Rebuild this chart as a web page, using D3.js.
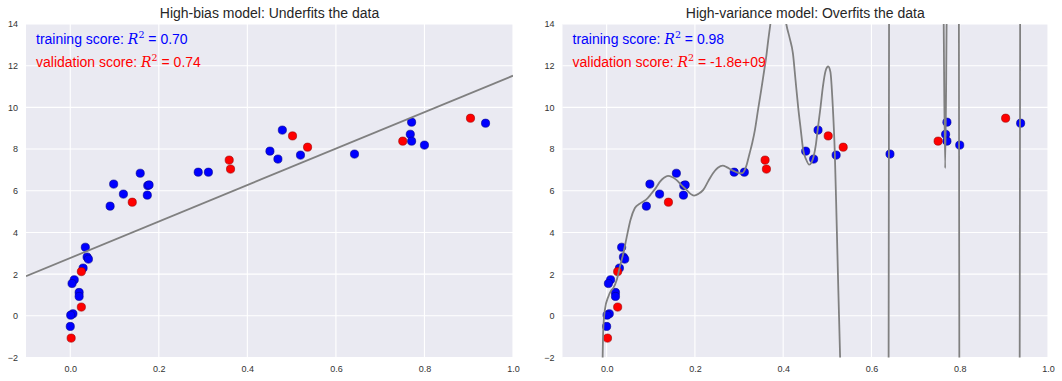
<!DOCTYPE html>
<html>
<head>
<meta charset="utf-8">
<script src="https://cdn.jsdelivr.net/npm/d3@7"></script>
<style>
  html, body { margin: 0; padding: 0; background: #ffffff; }
  svg { display: block; font-family: "Liberation Sans", Arial, sans-serif; }
</style>
</head>
<body>
<svg id="chart" width="1062" height="381"></svg>
<script>
// ---- Data ----
const trainX = [0.098, 0.120, 0.090, 0.158, 0.175, 0.178, 0.174, 0.289, 0.312, 0.451, 0.469,
                0.479, 0.520, 0.642, 0.771, 0.768, 0.771, 0.800, 0.938,
                0.034, 0.038, 0.041, 0.029, 0.009, 0.004, 0.020, 0.020, 0.006, 0.001, 0.000];
const trainY = [6.32, 5.84, 5.26, 6.84, 6.25, 6.28, 5.79, 6.89, 6.89, 7.90, 7.52,
                8.91, 7.71, 7.76, 9.29, 8.71, 8.38, 8.19, 9.24,
                3.29, 2.82, 2.72, 2.29, 1.73, 1.55, 1.12, 0.93, 0.10, 0.03, -0.51];
const validX = [0.140, 0.359, 0.362, 0.025, 0.025, 0.002, 0.502, 0.536, 0.751, 0.904];
const validY = [5.45, 7.47, 7.04, 2.12, 0.42, -1.07, 8.63, 8.09, 8.38, 9.48];

// High-bias (straight line) model, endpoints
const lineX = [-0.1, 1.0];
const lineY = [1.90, 11.52];

// High-variance model curve (values outside the view are clipped)
const curveX = [-0.012, -0.009, -0.008, -0.004, 0.004, 0.010, 0.015, 0.023, 0.030, 0.038, 0.045,
  0.054, 0.064, 0.075, 0.083, 0.093, 0.102, 0.112, 0.121, 0.130, 0.139, 0.148, 0.158, 0.170,
  0.181, 0.190, 0.198, 0.208, 0.219, 0.230, 0.241, 0.252, 0.263, 0.273, 0.283, 0.293, 0.302,
  0.308, 0.313, 0.318, 0.324, 0.330, 0.336, 0.343, 0.350, 0.355, 0.362, 0.366, 0.371, 0.380,
  0.390, 0.400, 0.407, 0.415, 0.422, 0.428, 0.434, 0.440, 0.445, 0.452, 0.459, 0.464, 0.469,
  0.474, 0.479, 0.484, 0.490, 0.496, 0.502, 0.507, 0.512, 0.517, 0.521, 0.525, 0.529, 0.535,
  0.560, 0.600, 0.636, 0.639, 0.642, 0.700, 0.755, 0.7635, 0.767, 0.7705, 0.780, 0.796,
  0.799, 0.802, 0.870, 0.933, 0.936, 0.939, 1.000];
const curveY = [-6.0, -1.95, -0.83, 0.29, 0.93, 1.20, 1.33, 1.73, 2.36, 3.01, 3.73,
  4.60, 5.17, 5.38, 5.48, 5.65, 5.88, 6.15, 6.44, 6.62, 6.71, 6.66, 6.52, 6.26,
  6.04, 5.85, 5.77, 5.85, 6.04, 6.45, 6.84, 7.10, 7.21, 7.12, 7.00, 6.90, 6.84,
  6.85, 7.00, 7.30, 7.80, 8.30, 8.92, 9.88, 10.80, 11.50, 12.50, 13.20, 14.00, 15.30,
  15.80, 15.00, 14.00, 13.30, 12.60, 11.30, 10.00, 8.90, 8.00, 7.50, 7.25, 7.35, 7.64,
  8.20, 9.08, 9.90, 11.00, 11.75, 11.96, 11.70, 10.20, 7.80, 4.60, 1.20, -2.00, -8.0,
  -40, -60, -40, 0, 40, 60, 40, 14.5, 7.08, 14.5, 40,
  40, 0, -40, -60, -40, 0, 40, 60];

const xTicks = [0.0, 0.2, 0.4, 0.6, 0.8, 1.0];
const yTicks = [-2, 0, 2, 4, 6, 8, 10, 12, 14];
const titles = ["High-bias model: Underfits the data", "High-variance model: Overfits the data"];
const trainScores = ["0.70", "0.98"];
const validScores = ["0.74", "-1.8e+09"];

// ---- Drawing ----
const svg = d3.select("#chart");
const panels = [
  {x0: 26, x1: 513, kind: "line"},
  {x0: 562.5, x1: 1048, kind: "curve"}
];
const yTop = 24, yBot = 357.5;

panels.forEach((p, i) => {
  const x = d3.scaleLinear().domain([-0.1, 1.0]).range([p.x0, p.x1]);
  const y = d3.scaleLinear().domain([-2, 14]).range([yBot, yTop]);
  const g = svg.append("g");

  g.append("rect").attr("x", p.x0).attr("y", yTop)
    .attr("width", p.x1 - p.x0).attr("height", yBot - yTop)
    .attr("fill", "#EAEAF2");

  const clipId = "clip" + i;
  svg.append("clipPath").attr("id", clipId).append("rect")
    .attr("x", p.x0).attr("y", yTop).attr("width", p.x1 - p.x0).attr("height", yBot - yTop);

  // grid
  g.append("g").selectAll("line").data(xTicks).join("line")
    .attr("x1", d => x(d)).attr("x2", d => x(d)).attr("y1", yTop).attr("y2", yBot)
    .attr("stroke", "#fff").attr("stroke-width", 1.1);
  g.append("g").selectAll("line").data(yTicks).join("line")
    .attr("x1", p.x0).attr("x2", p.x1).attr("y1", d => y(d)).attr("y2", d => y(d))
    .attr("stroke", "#fff").attr("stroke-width", 1.1);

  // axes (tick labels only)
  const xAxis = d3.axisBottom(x).tickValues(xTicks).tickFormat(d3.format(".1f")).tickSize(0).tickPadding(8);
  const gx = g.append("g").attr("transform", `translate(0,${yBot})`).call(xAxis);
  const yAxis = d3.axisLeft(y).tickValues(yTicks).tickFormat(d => d < 0 ? "\u2212" + Math.abs(d) : d).tickSize(0).tickPadding(8);
  const gy = g.append("g").attr("transform", `translate(${p.x0},0)`).call(yAxis);
  [gx, gy].forEach(a => {
    a.select(".domain").remove();
    a.selectAll("text").attr("font-size", 9).attr("fill", "#333")
      .attr("font-family", '"Liberation Sans", Arial, sans-serif');
  });

  // data points
  const pts = g.append("g");
  pts.selectAll("circle.train").data(trainX.map((v, k) => [v, trainY[k]])).join("circle")
    .attr("class", "train").attr("cx", d => x(d[0])).attr("cy", d => y(d[1])).attr("r", 4.1)
    .attr("fill", "#0000ff").attr("stroke", "#00008a").attr("stroke-width", 0.6);
  pts.selectAll("circle.valid").data(validX.map((v, k) => [v, validY[k]])).join("circle")
    .attr("class", "valid").attr("cx", d => x(d[0])).attr("cy", d => y(d[1])).attr("r", 4.1)
    .attr("fill", "#ff0000").attr("stroke", "#9a0000").attr("stroke-width", 0.6);

  // model
  let xs, ys, curve;
  if (p.kind === "line") { xs = lineX; ys = lineY; curve = d3.curveLinear; }
  else { xs = curveX; ys = curveY; curve = d3.curveMonotoneX; }
  const lineGen = d3.line().x(d => x(d[0])).y(d => y(d[1])).curve(curve);
  g.append("path").datum(xs.map((v, k) => [v, ys[k]]))
    .attr("clip-path", `url(#${clipId})`)
    .attr("d", lineGen).attr("fill", "none").attr("stroke", "#808080").attr("stroke-width", 1.8);

  // title
  g.append("text").attr("x", (p.x0 + p.x1) / 2).attr("y", 17.5).attr("text-anchor", "middle")
    .attr("font-size", 14).attr("fill", "#262626").text(titles[i]);

  // score texts
  const addScore = (yy, label, val, color) => {
    const t = g.append("text").attr("x", p.x0 + 10).attr("y", yy).attr("font-size", 14).attr("fill", color);
    t.append("tspan").text(label + " ");
    t.append("tspan").attr("font-family", '"DejaVu Serif", "Liberation Serif", serif').attr("font-style", "italic").text("R");
    t.append("tspan").attr("font-family", '"DejaVu Serif", "Liberation Serif", serif').attr("font-size", 9.5).attr("dy", -6).text("2");
    t.append("tspan").attr("dy", 6).text(" = " + val);
  };
  addScore(44, "training score:", trainScores[i], "#0000ff");
  addScore(67, "validation score:", validScores[i], "#ff0000");
});
</script>
</body>
</html>
